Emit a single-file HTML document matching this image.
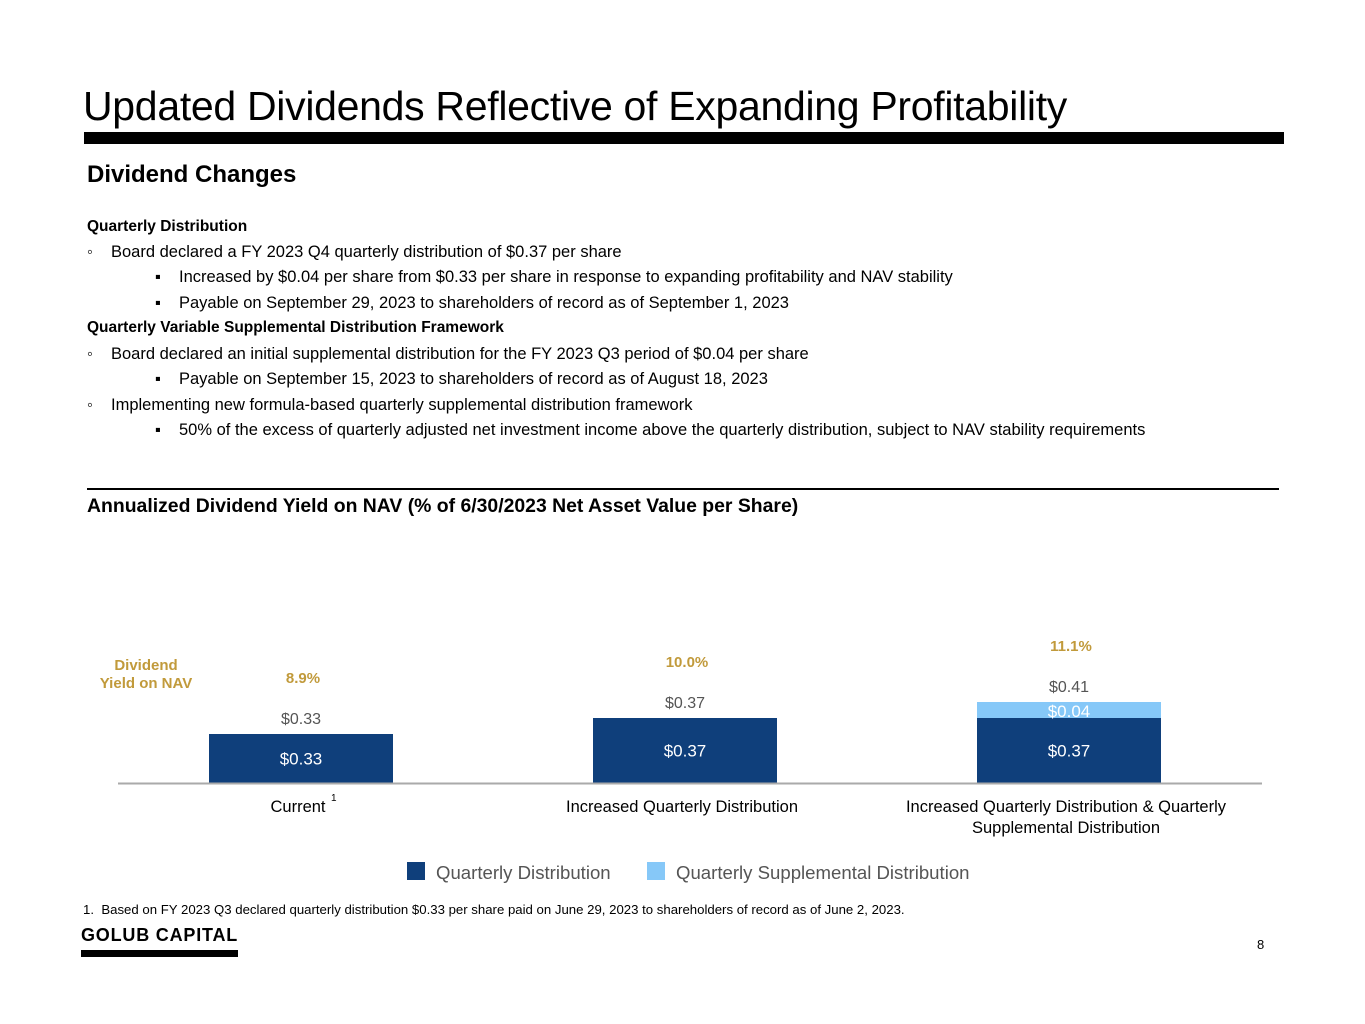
<!DOCTYPE html>
<html><head><meta charset="utf-8"><style>
body{margin:0;width:1365px;height:1024px;background:#fff;position:relative;overflow:hidden;font-family:"Liberation Sans",sans-serif;color:#000}
.a{position:absolute;white-space:nowrap}
.t{font-size:16.5px;line-height:18px}
.b{font-size:15.5px;font-weight:bold}
</style></head><body>
<div class="a" style="left:83px;top:83px;font-size:41px;letter-spacing:-0.3px">Updated Dividends Reflective of Expanding Profitability</div>
<div class="a" style="left:84px;top:132px;width:1200px;height:12px;background:#000"></div>
<div class="a" style="left:87px;top:161px;font-size:24px;font-weight:bold">Dividend Changes</div>
<div>
<div class="a t b" style="left:87px;top:218px">Quarterly Distribution</div>
<div class="a t" style="left:87px;top:243px">◦</div><div class="a t" style="left:111px;top:243px">Board declared a FY 2023 Q4 quarterly distribution of $0.37 per share</div>
<div class="a t" style="left:155px;top:268px">▪</div><div class="a t" style="left:179px;top:268px">Increased by $0.04 per share from $0.33 per share in response to expanding profitability and NAV stability</div>
<div class="a t" style="left:155px;top:294px">▪</div><div class="a t" style="left:179px;top:294px">Payable on September 29, 2023 to shareholders of record as of September 1, 2023</div>
<div class="a t b" style="left:87px;top:319px">Quarterly Variable Supplemental Distribution Framework</div>
<div class="a t" style="left:87px;top:345px">◦</div><div class="a t" style="left:111px;top:345px">Board declared an initial supplemental distribution for the FY 2023 Q3 period of $0.04 per share</div>
<div class="a t" style="left:155px;top:370px">▪</div><div class="a t" style="left:179px;top:370px">Payable on September 15, 2023 to shareholders of record as of August 18, 2023</div>
<div class="a t" style="left:87px;top:396px">◦</div><div class="a t" style="left:111px;top:396px">Implementing new formula-based quarterly supplemental distribution framework</div>
<div class="a t" style="left:155px;top:421px">▪</div><div class="a t" style="left:179px;top:421px">50% of the excess of quarterly adjusted net investment income above the quarterly distribution, subject to NAV stability requirements</div>
</div>
<div class="a" style="left:87px;top:488px;width:1192px;height:2px;background:#000"></div>
<div class="a" style="left:87px;top:495px;font-size:19.4px;font-weight:bold">Annualized Dividend Yield on NAV (% of 6/30/2023 Net Asset Value per Share)</div>

<svg class="a" style="left:0;top:0" width="1365" height="1024" id="chart"></svg>

<div class="a" style="left:83px;top:902px;font-size:13.2px">1.&nbsp; Based on FY 2023 Q3 declared quarterly distribution $0.33 per share paid on June 29, 2023 to shareholders of record as of June 2, 2023.</div>
<div class="a" style="left:81px;top:925px;font-size:18px;font-weight:bold;letter-spacing:0.8px">GOLUB CAPITAL</div>
<div class="a" style="left:81px;top:950px;width:157px;height:7px;background:#000"></div>
<div class="a" style="left:1257px;top:937px;font-size:13px">8</div>

<script>
const categories=["Current","Increased Quarterly Distribution","Increased Quarterly Distribution & Quarterly|Supplemental Distribution"];
const quarterly=[0.33,0.37,0.37];
const supplemental=[0,0,0.04];
const yields=["8.9%","10.0%","11.1%"];
const yMin=0.2075, baseY=783, pxPer=400;
const centers=[301,685,1069], barW=184;
function y(v){return baseY-(v-yMin)*pxPer;}
const svg=document.getElementById('chart');
const NS='http://www.w3.org/2000/svg';
function el(tag,attrs,txt){const e=document.createElementNS(NS,tag);for(const k in attrs)e.setAttribute(k,attrs[k]);if(txt!==undefined)e.textContent=txt;svg.appendChild(e);return e;}
const F='"Liberation Sans",sans-serif';
categories.forEach((c,i)=>{
  const cx=centers[i],x0=cx-barW/2;
  const q=quarterly[i],s=supplemental[i],tot=q+s;
  const b=el('rect',{x:x0,y:y(q),width:barW,height:baseY-y(q),fill:'#0f3f7b'});
  
  
  const ql=el('text',{x:cx,y:(y(q)+baseY)/2+6,'text-anchor':'middle','font-family':F,'font-size':17,fill:'#fff'},'$'+q.toFixed(2));
  
  
  if(s>0){
    const sb=el('rect',{x:x0,y:y(tot),width:barW,height:y(q)-y(tot),fill:'#86c8f8'});
    
    
    const sl=el('text',{x:cx,y:(y(tot)+y(q))/2+7,'text-anchor':'middle','font-family':F,'font-size':17,fill:'#fff'},'$'+s.toFixed(2));
    
    
  }
  const tl=el('text',{x:cx,y:y(tot)-10,'text-anchor':'middle','font-family':F,'font-size':16,fill:'#555'},'$'+tot.toFixed(2));
  
  
  const yl=el('text',{x:cx+2,y:y(tot)-51,'text-anchor':'middle','font-family':F,'font-size':15,'font-weight':'bold',fill:'#c19a3b'},yields[i]);
  
  
  c.split('|').forEach((ln,j)=>{
    const t=el('text',{x:cx-3,y:812+j*21,'text-anchor':'middle','font-family':F,'font-size':16.5,fill:'#000'},ln);
    
    
  });
});
const sup=el('text',{x:331,y:801,'font-family':F,'font-size':10},'1');


const ax=el('line',{x1:118,x2:1262,y1:783.5,y2:783.5,stroke:'#aaa','stroke-width':2});


[['Dividend',670],['Yield on NAV',688]].forEach(([t,yy])=>{
  const e=el('text',{x:146,y:yy,'text-anchor':'middle','font-family':F,'font-size':15,'font-weight':'bold',fill:'#c19a3b'},t);
  
  
});
const legend=[['Quarterly Distribution','#0f3f7b',407],['Quarterly Supplemental Distribution','#86c8f8',647]];
legend.forEach(([t,c,x])=>{
  const r=el('rect',{x:x,y:862,width:18,height:18,fill:c});
  
  
  const tx=el('text',{x:x+29,y:879,'font-family':F,'font-size':18.6,fill:'#555'},t);
  
  
});
</script>
</body></html>
